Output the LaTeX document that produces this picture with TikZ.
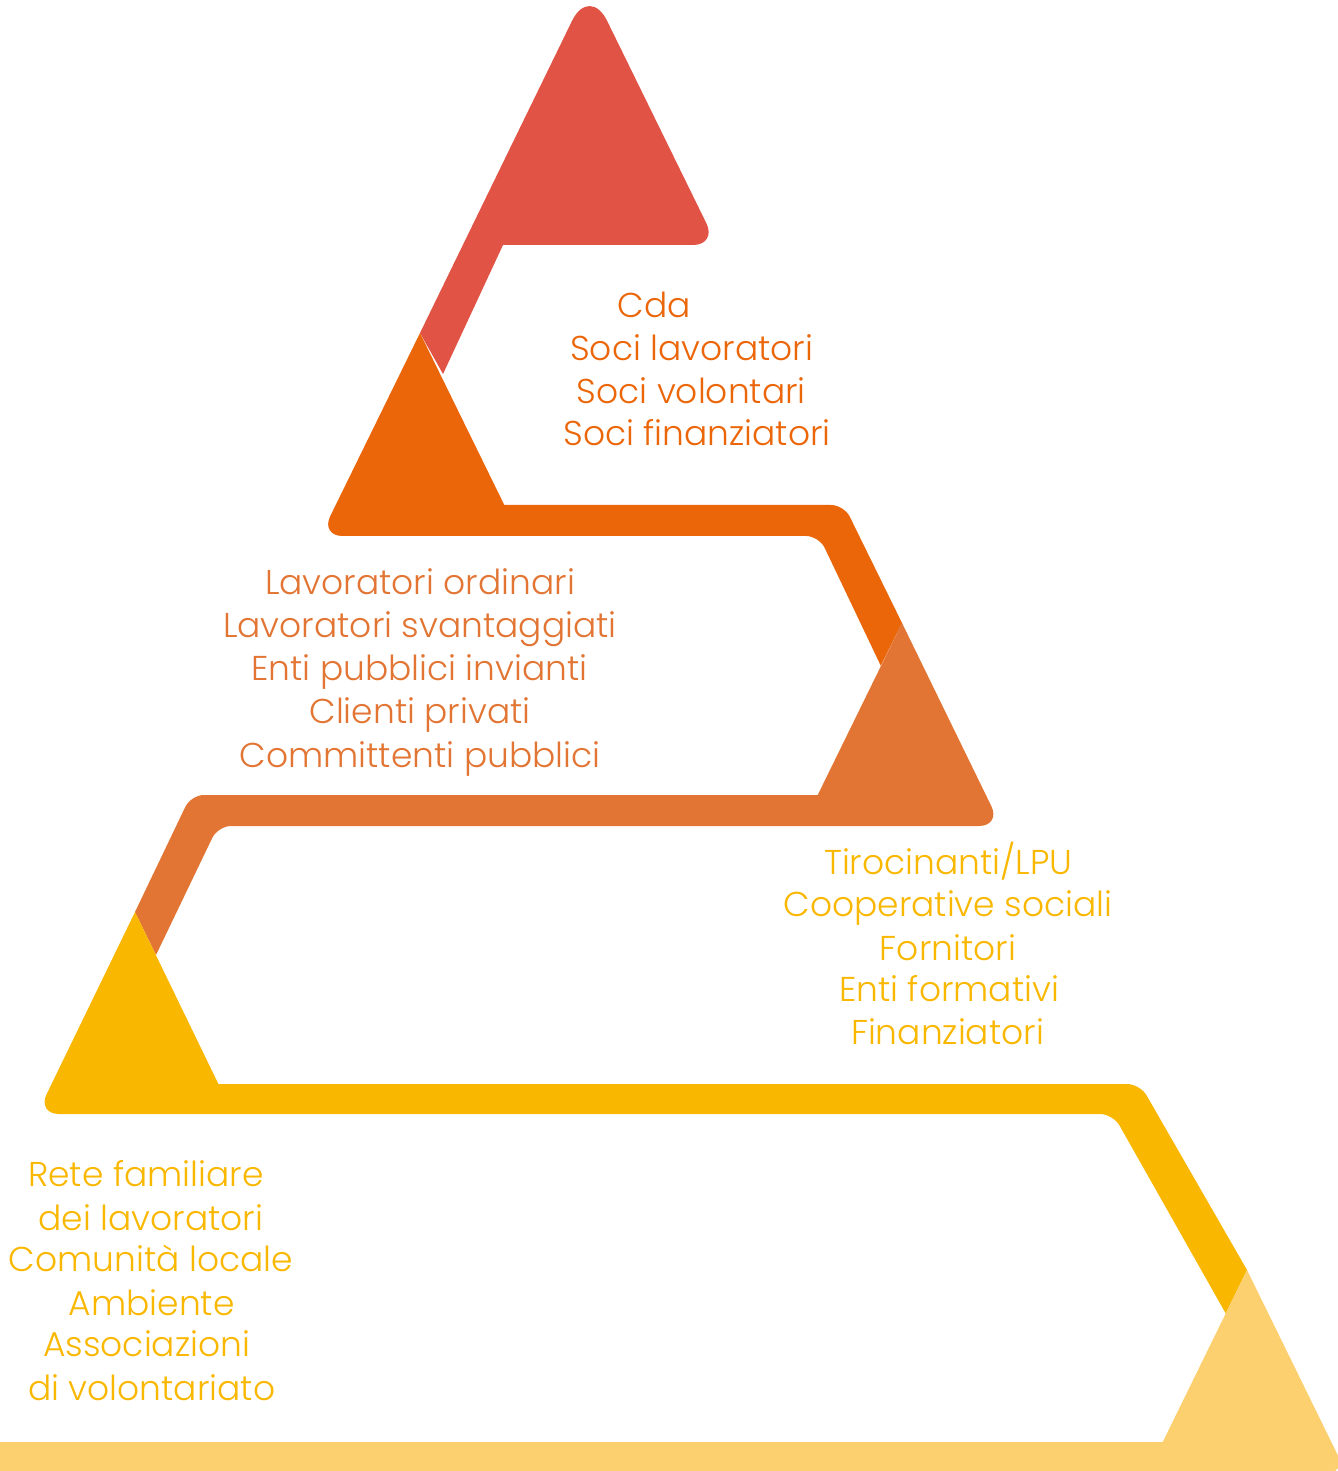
\documentclass[tikz,border=0pt]{standalone}
\usepackage{fontspec}
\setmainfont{Poppins}[UprightFont=* Light]
\definecolor{tierred}{HTML}{E05345}
\definecolor{tierorange}{HTML}{EB6608}
\definecolor{tierpeach}{HTML}{E27533}
\definecolor{tieryellow}{HTML}{FAB700}
\definecolor{tierpale}{HTML}{FDD06F}
\tikzset{
  lbl/.style={anchor=base, inner sep=0pt, font=\fontsize{9.8}{12}\selectfont},
}
\begin{document}
\begin{tikzpicture}[x=0.01cm,y=-0.01cm]
\useasboundingbox (0,0) rectangle (1337,1471);
\coordinate (A) at (589.5,-15);
\coordinate (B) at (420,333);
\coordinate (C) at (902,623);
\coordinate (D) at (135,912);
\coordinate (E) at (1247,1270);
% steps, top to bottom
\fill [tierred] (B) [rounded corners=4mm] -- (A) [rounded corners=2.4mm] -- (717,245) [sharp corners] -- (503,245) -- (443,374) -- cycle;
\fill [tierorange] (B) [rounded corners=2.2mm] -- (320.5,536) [rounded corners=1.3mm] -- (819,536) [sharp corners] -- (880.7,665.6) -- (C) [rounded corners=1.3mm] -- (844,505) [sharp corners] -- (504.3,505) -- cycle;
\fill [tierpeach] (C) [rounded corners=2.2mm] -- (1001,826) [rounded corners=1.3mm] -- (218,826) [sharp corners] -- (156,955) -- (D) [rounded corners=1.3mm] -- (191,795) [sharp corners] -- (817.7,795) -- cycle;
\fill [tieryellow] (D) [rounded corners=2.2mm] -- (37,1114) [rounded corners=1.3mm] -- (1113,1114) [sharp corners] -- (1225.7,1313.4) -- (E) [rounded corners=1.3mm] -- (1140,1084) [sharp corners] -- (218.4,1084) -- cycle;
\fill [tierpale] (E) [rounded corners=2.2mm] -- (1347,1474) [sharp corners] -- (-20,1474) -- (-20,1442) -- (1162.7,1442) -- cycle;
% labels
\node [lbl,text=tierorange] (cda) at (654,317.5) {Cda};
\node [lbl,text=tierorange] (socilav) at (691.7,360.3) {Soci lavoratori};
\node [lbl,text=tierorange] (socivol) at (691.3,403.1) {Soci volontari};
\node [lbl,text=tierorange] (socifin) at (697,445.9) {Soci finanziatori};
\node [lbl,text=tierpeach] (lavord) at (420,595) {Lavoratori ordinari};
\node [lbl,text=tierpeach] (lavsva) at (420,638) {Lavoratori svantaggiati};
\node [lbl,text=tierpeach] (entipub) at (419.5,681) {Enti pubblici invianti};
\node [lbl,text=tierpeach] (clienti) at (420,724) {Clienti privati};
\node [lbl,text=tierpeach] (committ) at (420,767) {Committenti pubblici};
\node [lbl,text=tieryellow] (tiroc) at (948.3,874.3) {Tirocinanti/LPU};
\node [lbl,text=tieryellow] (coop) at (948,916.7) {Cooperative sociali};
\node [lbl,text=tieryellow] (fornit) at (948,960) {Fornitori};
\node [lbl,text=tieryellow] (entiform) at (949,1001.7) {Enti formativi};
\node [lbl,text=tieryellow] (finanz) at (947.5,1044) {Finanziatori};
\node [lbl,text=tieryellow] (rete) at (146,1186) {Rete familiare};
\node [lbl,text=tieryellow] (deilav) at (151,1230) {dei lavoratori};
\node [lbl,text=tieryellow] (comunita) at (151,1271.7) {Comunità locale};
\node [lbl,text=tieryellow] (ambiente) at (151.7,1315) {Ambiente};
\node [lbl,text=tieryellow] (assoc) at (146.7,1356.7) {Associazioni};
\node [lbl,text=tieryellow] (divol) at (151.7,1400) {di volontariato};
\end{tikzpicture}
\end{document}
